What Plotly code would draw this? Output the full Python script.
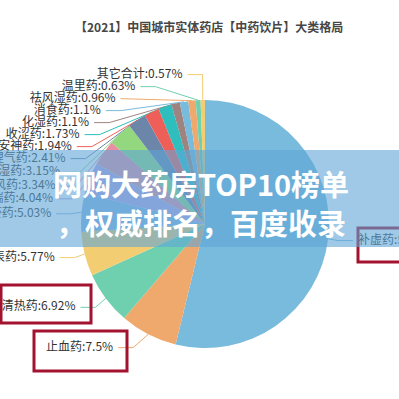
import math
import plotly.graph_objects as go

# ---------------- data ----------------
title_text = "【2021】中国城市实体药店【中药饮片】大类格局"
categories = ["补虚药", "止血药", "清热药", "解表药", "活血化瘀药", "化痰止咳平喘药",
              "平肝息风药", "利水渗湿药", "理气药", "安神药", "收涩药", "化湿药",
              "消食药", "祛风湿药", "温里药", "其它合计"]
shares = [53.81, 7.5, 6.92, 5.77, 5.03, 4.04, 3.34, 3.15, 2.41, 1.94, 1.73, 1.1,
          1.1, 0.96, 0.63, 0.57]
overlay_lines = ["网购大药房TOP10榜单", "，权威排名，百度收录"]

# ---------------- style ----------------
palette = ["#79bbdc", "#efa96c", "#6fd0b0", "#f2cd72", "#8fb6e0", "#b8a6e2",
           "#ea8fa3", "#93d87e", "#6b86a8", "#ef5f5a", "#2dbebd", "#9e8481"]
colors = [palette[i % len(palette)] for i in range(len(shares))]

W = H = 399
CX, CY, R = 205, 224, 124          # pie centre / radius in px
LEN1, LEN2, LDIST, LH = 15, 15, 5, 12
FONT = "Noto Sans CJK SC, Microsoft YaHei, sans-serif"

# ---------------- label layout (echarts-like) ----------------
total = sum(shares)
items = []
acc = 0.0
for i, (c, v) in enumerate(zip(categories, shares)):
    a0 = acc / total * 360
    acc += v
    a1 = acc / total * 360
    mid = math.radians((a0 + a1) / 2)
    dx, dy = math.sin(mid), -math.cos(mid)
    x1, y1 = CX + R * dx, CY + R * dy
    x2, y2 = CX + (R + LEN1) * dx, CY + (R + LEN1) * dy
    side = -1 if dx < 0 else 1
    x3 = x2 + side * LEN2
    items.append(dict(i=i, side=side, p0=(x1, y1), x2=x2, x3=x3,
                      x=x3 + side * LDIST, y=y2, h=LH,
                      text=f"{c}:{v:g}%"))


def adjust_side(lst, d):
    lst.sort(key=lambda it: it["y"])
    n = len(lst)

    def shift_up(end, delta):
        for j in range(end, -1, -1):
            if lst[j]["y"] - delta < 0:
                break
            lst[j]["y"] -= delta
            if j > 0 and lst[j]["y"] > lst[j - 1]["y"] + lst[j - 1]["h"]:
                break

    def shift_down(start, end, delta):
        for j in range(start, end):
            if lst[j]["y"] + delta > H:
                break
            lst[j]["y"] += delta
            if j > start and j + 1 < end and lst[j + 1]["y"] > lst[j]["y"] + lst[j]["h"]:
                shift_up(j, delta / 2)
                return
        shift_up(end - 1, delta / 2)

    last = 0
    for i in range(n):
        delta = lst[i]["y"] - last
        if delta < 0:
            shift_down(i, n, -delta)
        last = lst[i]["y"] + lst[i]["h"]
    if H - last < 0:
        shift_up(n - 1, last - H)

    def change_x(sub, is_down):
        last_dx = float("inf") if is_down else 0
        for it in sub:
            ddy = abs(it["y"] - CY)
            if ddy < R + LEN1:
                ddx = math.sqrt((R + LEN1 + LEN2) ** 2 - ddy * ddy)
            else:
                ddx = abs(it["x"] - CX)
            if is_down and ddx >= last_dx:
                ddx = last_dx - 10
            if not is_down and ddx <= last_dx:
                ddx = last_dx + 10
            it["x"] = CX + ddx * d
            last_dx = ddx

    change_x([it for it in lst if it["y"] < CY], False)
    change_x([it for it in lst if it["y"] >= CY], True)


left = [it for it in items if it["side"] < 0]
right = [it for it in items if it["side"] > 0]
adjust_side(left, -1)
adjust_side(right, 1)

fig = go.Figure()

# leader lines + labels (cartesian layer, beneath overlay)
for it in items:
    s = it["side"]
    p2x = it["x"] - s * LDIST
    p1x = p2x - s * LEN2
    fig.add_trace(go.Scatter(
        x=[it["p0"][0], p1x, p2x], y=[it["p0"][1], it["y"], it["y"]],
        mode="lines", line=dict(color=colors[it["i"]], width=1),
        hoverinfo="skip", showlegend=False))

for side, pos in ((-1, "middle left"), (1, "middle right")):
    sub = [it for it in items if it["side"] == side]
    fig.add_trace(go.Scatter(
        x=[it["x"] for it in sub], y=[it["y"] for it in sub],
        text=[it["text"] for it in sub], mode="text", textposition=pos,
        textfont=dict(family=FONT, size=12, color="#333333"),
        hoverinfo="skip", showlegend=False))

fig.add_trace(go.Pie(
    labels=categories, values=shares, sort=False, direction="clockwise",
    rotation=0, textinfo="none", hoverinfo="label+percent",
    marker=dict(colors=colors, line=dict(width=0)),
    domain=dict(x=[(CX - R) / W, (CX + R) / W],
                y=[(H - CY - R) / H, (H - CY + R) / H]),
    showlegend=False))

red = "#a3122e"
shapes = [
    dict(type="rect", x0=1, x1=91, y0=285, y1=323),
    dict(type="rect", x0=34, x1=127, y0=331, y1=371),
    dict(type="rect", x0=358, x1=402, y0=228, y1=262),
]
for sh in shapes:
    sh.update(xref="x", yref="y", layer="above", line=dict(color=red, width=3))
shapes.append(dict(type="rect", xref="x", yref="y", x0=-2, x1=401, y0=150, y1=247,
                   fillcolor="rgba(95,165,215,0.6)", line=dict(width=0), layer="above"))

annotations = [
    dict(text=f"<b>{title_text}</b>", x=209, y=26, xref="x", yref="y",
         showarrow=False, font=dict(family=FONT, size=12, color="#464646")),
    dict(text=f"<b>{overlay_lines[0]}</b>", x=201, y=183, xref="x", yref="y",
         showarrow=False, font=dict(family=FONT, size=29, color="white")),
    dict(text=f"<b>{overlay_lines[1]}</b>", x=201, y=222, xref="x", yref="y",
         showarrow=False, font=dict(family=FONT, size=29, color="white")),
]

fig.update_layout(
    width=W, height=H, autosize=False,
    margin=dict(l=0, r=0, t=0, b=0),
    paper_bgcolor="white", plot_bgcolor="rgba(0,0,0,0)",
    xaxis=dict(range=[0, W], visible=False, fixedrange=True),
    yaxis=dict(range=[H, 0], visible=False, fixedrange=True),
    shapes=shapes, annotations=annotations,
)

fig.write_html("out.html")
